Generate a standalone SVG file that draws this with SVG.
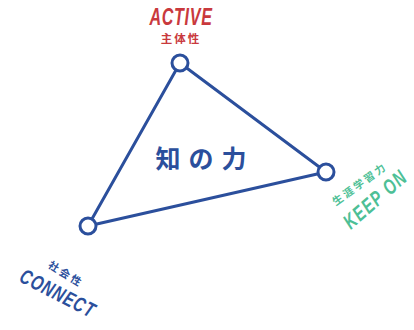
<svg xmlns="http://www.w3.org/2000/svg" width="414" height="330" viewBox="0 0 414 330">
<style>
.edge{stroke:#2b4f9c;stroke-width:3;fill:none;stroke-linecap:round}
.node{fill:#fff;stroke:#2b4f9c;stroke-width:3}
.en{font-family:"Liberation Sans",sans-serif;font-weight:bold;font-style:italic}
.jp{font-family:"Noto Sans CJK JP",sans-serif;font-weight:bold}
.red{fill:#c9393d}
.green{fill:#4dbf96}
.blue{fill:#2b4f9c}
</style>
<rect width="414" height="330" fill="#fff"/>
<g id="connectors">
<line class="edge" x1="180" y1="63" x2="88" y2="226"/>
<line class="edge" x1="180" y1="63" x2="326" y2="172"/>
<line class="edge" x1="326" y1="172" x2="88" y2="226"/>
</g>
<g id="active">
<circle class="node" cx="180" cy="63" r="8"/>
<text class="en red" x="0" y="0" font-size="23" text-anchor="middle" letter-spacing="1" transform="translate(181,25) scale(0.7,1)">ACTIVE</text>
<text class="jp red" x="181" y="43" font-size="11.5" text-anchor="middle" letter-spacing="2">主体性</text>
</g>
<g id="keepon">
<circle class="node" cx="326" cy="172" r="8"/>
<text class="jp green" x="0" y="0" font-size="10.5" text-anchor="middle" letter-spacing="2.5" transform="translate(362,187) rotate(-36)">生涯学習力</text>
<text class="en green" x="0" y="0" font-size="21" text-anchor="middle" letter-spacing="2" transform="translate(375,199) rotate(-41) translate(0,7.5) scale(0.72,1)">KEEP ON</text>
</g>
<g id="connect">
<circle class="node" cx="88" cy="226" r="8"/>
<text class="jp blue" x="0" y="0" font-size="10.5" text-anchor="middle" letter-spacing="2.5" transform="translate(66,274) rotate(32) translate(0,4)">社会性</text>
<text class="en blue" x="0" y="0" font-size="21" text-anchor="middle" letter-spacing="1.5" transform="translate(58,293) rotate(27) translate(0,7.5) scale(0.72,1)">CONNECT</text>
</g>
<g id="center">
<text class="jp blue" x="205" y="168" font-size="25" text-anchor="middle" letter-spacing="8">知の力</text>
</g>
</svg>
